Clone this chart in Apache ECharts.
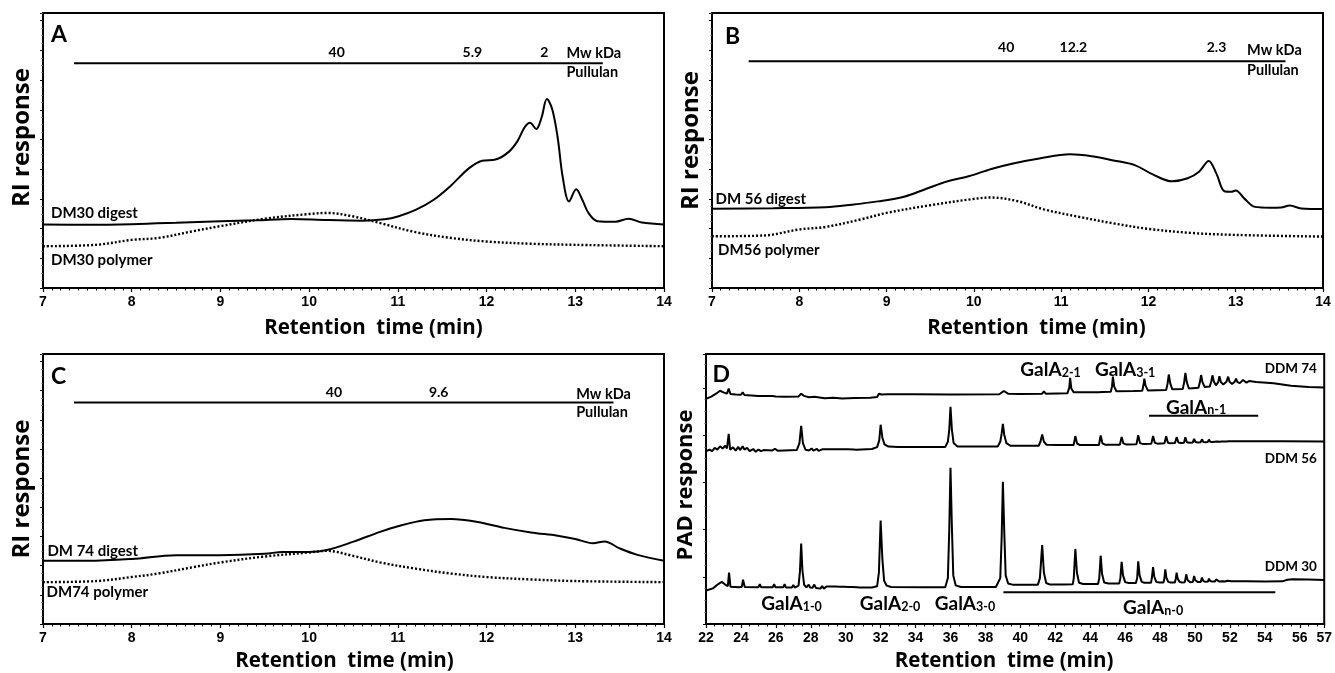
<!DOCTYPE html>
<html>
<head>
<meta charset="utf-8">
<script src="https://cdn.jsdelivr.net/npm/echarts@6/dist/echarts.min.js"></script>
<style>
html, body { margin: 0; background: #fff; }
#main { width: 1335px; height: 673px; }
</style>
</head>
<body>
<div id="main"></div>
<script>
// RI traces, [retention time (min), response]
var digestA = [[7.0, 23.1], [7.5, 23.0], [8.0, 23.2], [8.5, 23.7], [9.0, 24.3], [9.4, 24.6], [9.8, 25.1], [10.2, 24.7],
    [10.6, 24.5], [10.85, 25.0], [11.0, 26.0], [11.2, 28.4], [11.4, 32.0], [11.6, 37.3], [11.8, 43.5], [11.95, 46.3],
    [12.1, 46.7], [12.25, 49.5], [12.35, 53.5], [12.43, 58.5], [12.49, 60.1], [12.56, 57.8], [12.62, 62.0], [12.68, 68.7],
    [12.74, 65.0], [12.8, 55.0], [12.86, 40.0], [12.93, 31.5], [13.01, 35.9], [13.08, 32.0], [13.15, 27.2], [13.25, 24.3],
    [13.45, 24.1], [13.6, 25.2], [13.75, 23.8], [14.0, 23.1]];
var polymerA = [[7.0, 15.2], [7.6, 15.7], [8.0, 17.5], [8.3, 18.2], [8.7, 20.7], [9.0, 22.5], [9.5, 25.2], [10.0, 26.9],
    [10.2, 27.3], [10.5, 26.0], [10.8, 23.6], [11.2, 20.3], [11.6, 18.2], [12.0, 16.9], [12.5, 16.1], [13.0, 15.7], [14.0, 15.2]];
var digestB = [[7.0, 28.8], [7.7, 29.0], [8.3, 29.4], [8.6, 30.3], [8.9, 31.5], [9.2, 33.2], [9.45, 36.0], [9.7, 38.8],
    [9.95, 40.7], [10.2, 43.3], [10.45, 45.3], [10.75, 47.1], [11.1, 48.6], [11.35, 47.9], [11.6, 46.4], [11.85, 44.6],
    [12.05, 41.3], [12.27, 38.8], [12.45, 39.9], [12.58, 42.3], [12.69, 46.2], [12.78, 41.5], [12.87, 35.2], [12.95, 35.0],
    [13.0, 35.5], [13.1, 32.5], [13.22, 29.5], [13.4, 29.2], [13.52, 29.3], [13.62, 30.0], [13.75, 28.9], [14.0, 28.7]];
var polymerB = [[7.0, 18.8], [7.6, 19.1], [8.0, 21.3], [8.3, 22.2], [8.7, 24.9], [9.0, 27.3], [9.5, 30.1], [10.0, 32.4],
    [10.2, 32.9], [10.5, 31.6], [10.8, 28.6], [11.2, 25.9], [11.6, 23.5], [12.0, 21.5], [12.5, 20.0], [13.0, 19.3], [14.0, 18.7]];
var digestC = [[7.0, 23.4], [7.5, 23.4], [8.0, 24.1], [8.5, 25.5], [9.0, 25.5], [9.5, 26.0], [9.7, 26.7], [10.0, 26.7],
    [10.2, 27.4], [10.5, 30.5], [10.8, 34.1], [11.0, 36.2], [11.3, 38.4], [11.6, 38.9], [11.9, 37.8], [12.2, 35.6],
    [12.5, 33.9], [12.8, 32.7], [13.0, 31.5], [13.2, 29.9], [13.33, 30.6], [13.5, 28.0], [13.7, 25.6], [14.0, 23.4]];
var polymerC = [[7.0, 15.5], [7.6, 15.9], [8.0, 17.4], [8.3, 18.7], [8.7, 21.1], [9.0, 22.8], [9.5, 25.0], [10.0, 26.5],
    [10.2, 27.1], [10.5, 25.2], [10.8, 22.8], [11.2, 20.5], [11.6, 18.7], [12.0, 17.4], [12.5, 16.5], [13.0, 15.9], [14.0, 15.5]];

// pullulan calibration bars
var pullA = [[7.35, 81.7], [13.31, 81.7]];
var pullB = [[7.42, 82.5], [13.57, 82.5]];
var pullC = [[7.35, 82.0], [13.43, 82.0]];

// PAD traces (panel D)
var ddm74 = [[22.0, 83.4], [22.3, 84.2], [22.6, 85.4], [22.8, 86.4], [23.0, 85.8], [23.2, 85.3], [23.3, 87.2], [23.4, 85.2],
    [23.7, 85.0], [24.0, 84.9], [24.1, 85.8], [24.2, 84.8], [24.6, 84.6], [25.0, 84.4], [25.8, 84.4], [25.9, 84.8],
    [26.0, 84.3], [26.5, 84.2], [27.3, 84.3], [27.45, 85.3], [27.6, 84.5], [27.9, 84.0], [28.2, 84.2], [28.3, 83.6],
    [28.8, 83.6], [29.3, 83.8], [29.8, 83.5], [30.5, 83.7], [31.4, 83.8], [31.8, 84.1], [31.9, 85.3], [32.05, 85.0],
    [32.4, 85.1], [34.0, 85.1], [36.0, 85.0], [38.8, 85.1], [39.05, 86.3], [39.3, 85.3], [40.0, 85.2], [41.25, 85.3],
    [41.35, 86.2], [41.45, 85.3], [42.7, 85.5], [42.8, 87.5], [42.85, 91.2], [42.92, 87.2], [43.05, 85.8], [44.5, 85.8],
    [44.6, 86.3], [44.7, 85.9], [45.18, 86.0], [45.25, 88.0], [45.3, 91.6], [45.37, 88.0], [45.5, 86.2], [46.5, 86.3],
    [46.98, 86.4], [47.05, 88.5], [47.1, 90.9], [47.17, 88.3], [47.3, 86.5], [48.35, 86.7], [48.43, 89.0], [48.5, 92.4],
    [48.58, 89.2], [48.7, 86.9], [49.3, 87.0], [49.38, 89.5], [49.45, 93.0], [49.53, 89.6], [49.65, 87.2], [50.2, 87.5],
    [50.28, 89.5], [50.35, 92.2], [50.43, 89.6], [50.55, 87.8], [50.85, 88.0], [50.93, 89.8], [51.0, 92.1], [51.08, 89.8],
    [51.2, 88.4], [51.33, 89.6], [51.4, 91.8], [51.48, 89.6], [51.62, 88.7], [51.8, 89.7], [51.9, 91.6], [51.98, 89.7],
    [52.12, 88.9], [52.27, 89.7], [52.35, 90.9], [52.43, 89.6], [52.57, 89.2], [52.68, 89.8], [52.75, 90.4], [52.83, 89.7],
    [52.95, 89.4], [53.05, 89.9], [53.1, 90.0], [53.2, 89.6], [53.5, 89.6], [54.5, 89.2], [55.5, 88.2], [56.5, 87.8], [57.4, 87.6]];
var ddm56 = [[22.0, 63.9], [22.2, 64.6], [22.35, 64.0], [22.5, 65.2], [22.65, 64.6], [22.8, 65.8], [22.95, 65.0], [23.1, 66.0],
    [23.2, 65.0], [23.3, 70.4], [23.38, 64.6], [23.55, 65.4], [23.7, 64.2], [23.85, 65.6], [23.95, 64.4], [24.1, 65.8],
    [24.2, 64.6], [24.35, 65.2], [24.5, 64.0], [24.7, 64.8], [24.85, 63.8], [25.0, 64.6], [25.15, 64.0], [25.3, 64.4],
    [25.8, 64.3], [25.95, 64.9], [26.1, 64.2], [27.2, 64.4], [27.35, 67.0], [27.45, 73.4], [27.55, 67.0], [27.7, 64.5],
    [27.9, 64.3], [28.05, 65.0], [28.15, 64.2], [28.35, 64.9], [28.45, 64.1], [28.65, 64.7], [28.75, 64.1], [28.95, 64.7],
    [29.05, 64.2], [29.25, 64.7], [29.35, 64.3], [29.55, 64.7], [29.65, 64.3], [29.85, 64.7], [29.95, 64.4], [30.15, 64.7],
    [30.25, 64.4], [30.45, 64.6], [30.6, 64.5], [31.5, 64.8], [31.8, 65.5], [31.92, 68.0], [32.0, 73.8], [32.1, 69.0],
    [32.22, 66.5], [32.45, 65.7], [33.0, 65.6], [35.7, 65.6], [35.85, 67.5], [35.93, 72.0], [36.0, 80.4], [36.08, 72.0],
    [36.18, 67.0], [36.4, 65.7], [38.7, 65.7], [38.85, 67.5], [38.93, 70.5], [39.0, 74.1], [39.08, 70.0], [39.2, 67.0],
    [39.45, 66.0], [41.05, 66.0], [41.15, 67.5], [41.25, 70.2], [41.35, 67.5], [41.5, 66.4], [42.1, 66.3], [42.2, 66.9],
    [42.3, 66.3], [43.05, 66.3], [43.15, 69.6], [43.25, 66.8], [43.4, 66.3], [44.5, 66.3], [44.6, 69.8], [44.7, 66.9],
    [44.85, 66.4], [45.7, 66.4], [45.8, 69.3], [45.9, 66.9], [46.05, 66.5], [46.65, 66.6], [46.75, 69.9], [46.85, 67.0],
    [47.0, 66.7], [47.5, 66.8], [47.6, 69.6], [47.7, 67.1], [47.85, 66.8], [48.25, 66.9], [48.35, 69.5], [48.45, 67.1],
    [48.6, 66.9], [48.85, 67.0], [48.95, 69.2], [49.05, 67.2], [49.2, 67.0], [49.37, 67.1], [49.45, 69.2], [49.53, 67.3],
    [49.7, 67.1], [49.87, 67.2], [49.95, 68.6], [50.03, 67.4], [50.17, 67.2], [50.32, 67.3], [50.4, 68.4], [50.48, 67.4],
    [50.6, 67.3], [50.73, 67.4], [50.8, 68.3], [50.87, 67.5], [51.0, 67.4], [51.13, 67.5], [51.2, 68.2], [51.27, 67.6],
    [51.4, 67.5], [51.53, 67.6], [51.6, 68.1], [51.67, 67.6], [51.8, 67.6], [51.93, 67.7], [52.0, 68.0], [52.1, 67.7],
    [53.0, 67.7], [55.0, 67.7], [57.4, 67.6]];
var ddm30 = [[22.0, 12.4], [22.4, 13.2], [22.7, 14.8], [22.9, 15.6], [23.1, 14.6], [23.25, 14.0], [23.32, 19.0], [23.4, 13.8],
    [23.9, 13.6], [24.05, 13.8], [24.12, 16.4], [24.22, 13.7], [25.0, 13.6], [25.08, 14.8], [25.16, 13.6], [25.82, 13.6],
    [25.9, 14.8], [25.98, 13.6], [26.42, 13.6], [26.5, 14.8], [26.58, 13.5], [26.92, 13.5], [27.0, 14.4], [27.08, 13.5],
    [27.3, 14.2], [27.38, 19.5], [27.45, 29.8], [27.52, 20.0], [27.62, 14.5], [27.75, 13.6], [27.88, 14.6], [27.96, 13.5],
    [28.1, 13.4], [28.2, 14.6], [28.3, 13.3], [28.55, 13.1], [28.65, 14.0], [28.75, 13.1], [28.9, 13.9], [29.0, 13.2],
    [29.15, 13.9], [29.25, 13.2], [29.4, 13.9], [29.5, 13.3], [29.65, 13.8], [29.75, 13.3], [29.9, 13.8], [30.0, 13.4],
    [30.15, 13.7], [30.25, 13.4], [30.4, 13.7], [30.5, 13.5], [30.65, 13.6], [30.8, 13.5], [31.5, 13.5], [31.8, 14.0],
    [31.9, 19.0], [32.0, 38.3], [32.1, 24.0], [32.2, 16.0], [32.35, 14.2], [32.6, 13.7], [34.5, 13.6], [35.7, 13.6],
    [35.85, 17.0], [35.93, 35.0], [36.0, 57.9], [36.08, 36.0], [36.16, 18.0], [36.3, 14.3], [36.6, 13.7], [38.6, 13.7],
    [38.85, 17.0], [38.93, 32.0], [39.0, 52.7], [39.08, 34.0], [39.16, 18.0], [39.3, 15.0], [39.6, 14.5], [41.0, 14.5],
    [41.12, 17.0], [41.25, 29.2], [41.35, 19.0], [41.48, 15.2], [41.7, 14.6], [42.3, 14.6], [42.38, 15.2], [42.46, 14.6],
    [43.0, 14.7], [43.06, 17.0], [43.15, 27.8], [43.24, 19.0], [43.36, 15.3], [43.6, 14.8], [44.45, 14.8], [44.52, 17.0],
    [44.6, 25.3], [44.68, 18.5], [44.8, 15.4], [45.05, 15.0], [45.66, 15.0], [45.73, 17.0], [45.8, 23.0], [45.88, 18.0],
    [46.0, 15.5], [46.2, 15.2], [46.62, 15.2], [46.69, 17.0], [46.75, 23.2], [46.83, 18.0], [46.95, 15.6], [47.1, 15.3],
    [47.48, 15.3], [47.53, 17.0], [47.6, 21.1], [47.67, 17.5], [47.78, 15.6], [47.95, 15.4], [48.2, 15.4], [48.25, 17.0],
    [48.3, 20.2], [48.36, 17.2], [48.47, 15.6], [48.6, 15.4], [48.85, 15.4], [48.9, 16.8], [48.95, 19.0], [49.01, 16.8],
    [49.12, 15.6], [49.25, 15.4], [49.42, 15.5], [49.5, 18.4], [49.58, 16.2], [49.72, 15.5], [49.88, 15.6], [49.95, 17.8],
    [50.02, 16.2], [50.15, 15.6], [50.33, 15.6], [50.4, 17.2], [50.47, 16.0], [50.6, 15.6], [50.74, 15.7], [50.8, 16.8],
    [50.87, 15.9], [51.0, 15.7], [51.14, 15.7], [51.2, 16.5], [51.27, 15.8], [51.4, 15.7], [51.5, 16.2], [51.6, 15.8],
    [51.72, 15.7], [51.85, 16.0], [51.95, 15.8], [52.1, 15.8], [52.2, 16.0], [52.3, 15.8], [53.0, 15.8], [54.0, 15.7],
    [55.0, 15.8], [55.3, 16.4], [55.6, 16.6], [56.5, 16.5], [57.4, 16.3]];
var galN1 = [[47.37, 77.1], [53.62, 77.1]];
var galN0 = [[39.03, 11.8], [54.6, 11.8]];

// annotation texts: [x, y, text, kind]
var notesA = [[7.09, 92.2, 'A', 'panel'], [10.31, 85.6, '40', 'num'], [11.84, 85.6, '5.9', 'num'], [12.65, 85.6, '2', 'num'],
    [12.9, 85.2, 'Mw kDa', 'unit'], [12.9, 78.5, 'Pullulan', 'unit'],
    [7.09, 27.3, 'DM30 digest', 'trace'], [7.09, 10.2, 'DM30 polymer', 'trace']];
var notesB = [[7.15, 91.6, 'B', 'panel'], [10.37, 87.3, '40', 'num'], [11.14, 87.3, '12.2', 'num'], [12.78, 87.3, '2.3', 'num'],
    [13.13, 86.5, 'Mw kDa', 'unit'], [13.13, 79.0, 'Pullulan', 'unit'],
    [7.04, 32.4, 'DM 56 digest', 'trace'], [7.07, 13.6, 'DM56 polymer', 'trace']];
var notesC = [[7.09, 91.8, 'C', 'panel'], [10.28, 85.6, '40', 'num'], [11.46, 85.6, '9.6', 'num'],
    [13.01, 85.0, 'Mw kDa', 'unit'], [13.01, 78.5, 'Pullulan', 'unit'],
    [7.05, 27.0, 'DM 74 digest', 'trace'], [7.04, 11.7, 'DM74 polymer', 'trace']];
var notesD = [[22.37, 92.4, 'D', 'panel'], [41.73, 94.0, 'GalA_2-1', 'gal'], [46.0, 94.0, 'GalA_3-1', 'gal'],
    [50.06, 80.2, 'GalA_n-1', 'gal'], [26.9, 7.4, 'GalA_1-0', 'gal'], [32.54, 7.4, 'GalA_2-0', 'gal'],
    [36.83, 7.4, 'GalA_3-0', 'gal'], [47.6, 5.8, 'GalA_n-0', 'gal'],
    [56.98, 94.5, 'DDM 74', 'ddm'], [56.98, 61.4, 'DDM 56', 'ddm'], [56.98, 21.1, 'DDM 30', 'ddm']];

var LBL = 'Lato, "Open Sans", sans-serif';
var TITLE = '"Open Sans", Lato, sans-serif';
var TICK = '"Liberation Sans Narrow", "Liberation Sans", Arial, sans-serif';
var INK = '#000';

var kinds = {
    panel: { fontSize: 23, align: 'left' },
    num: { fontSize: 14, align: 'center' },
    unit: { fontSize: 14.5, align: 'left' },
    trace: { fontSize: 15, align: 'left' },
    ddm: { fontSize: 13.5, align: 'right' },
    gal: { fontSize: 19, align: 'center' }
};

function trace(i, data, dotted) {
    return {
        type: 'line', xAxisIndex: i, yAxisIndex: i, data: data,
        showSymbol: false, symbol: 'none', smooth: i < 3 ? 0.35 : false, silent: true,
        lineStyle: { color: INK, width: dotted ? 2.4 : 2, type: dotted ? [2, 2] : 'solid' }
    };
}

function notes(i, list) {
    return {
        type: 'scatter', xAxisIndex: i, yAxisIndex: i, symbolSize: 0, silent: true, z: 5,
        itemStyle: { color: INK, opacity: 1 },
        data: list.map(function (n) {
            var k = kinds[n[3]];
            var txt = n[2];
            if (n[3] === 'gal') {
                var p = txt.split('_');
                txt = '{g|' + p[0] + '}{s|' + p[1] + '}';
            }
            return {
                value: [n[0], n[1]],
                label: {
                    show: true, position: 'inside', align: k.align, verticalAlign: 'middle',
                    formatter: function () { return txt; },
                    fontSize: k.fontSize, fontWeight: 'bold', fontFamily: LBL, color: INK,
                    textBorderWidth: 0, textShadowBlur: 0,
                    rich: {
                        g: { fontSize: 19, fontWeight: 'bold', fontFamily: LBL, color: INK, lineHeight: 19, verticalAlign: 'top', textBorderWidth: 0 },
                        s: { fontSize: 12.5, fontWeight: 'bold', fontFamily: LBL, color: INK, lineHeight: 13, verticalAlign: 'bottom', padding: [10, 0, 0, 0], textBorderWidth: 0 }
                    }
                }
            };
        })
    };
}

function xAx(i, min, max, step, minor, gap, pad, fmt) {
    return {
        type: 'value', gridIndex: i, min: min, max: max, interval: step,
        axisLine: { lineStyle: { color: INK, width: 2 } },
        axisTick: { length: 4, lineStyle: { color: INK, width: 1.2 } },
        minorTick: { show: true, splitNumber: minor, length: 2.5, lineStyle: { color: INK, width: 1 } },
        splitLine: { show: false },
        axisLabel: { color: INK, fontFamily: TICK, fontWeight: 'bold', fontSize: 14, margin: 7, formatter: fmt },
        name: 'Retention  time (min)', nameLocation: 'middle', nameGap: gap,
        nameTextStyle: { color: INK, fontFamily: TITLE, fontWeight: 'bold', fontSize: 20.5, padding: pad }
    };
}

function yAx(i, step, name, size, pad) {
    return {
        type: 'value', gridIndex: i, min: 0, max: 100, interval: step,
        axisLine: { lineStyle: { color: INK, width: 2 } },
        axisTick: { length: 3, lineStyle: { color: INK, width: 1 } },
        minorTick: { show: true, splitNumber: 4, length: 1.5, lineStyle: { color: '#555', width: 1 } },
        splitLine: { show: false },
        axisLabel: { show: false },
        name: name, nameLocation: 'middle', nameGap: 9,
        nameTextStyle: { color: INK, fontFamily: TITLE, fontWeight: 'bold', fontSize: size, padding: pad }
    };
}

var box = { show: true, borderColor: INK, borderWidth: 2, backgroundColor: '#fff' };
var myChart = echarts.init(document.getElementById('main'));

var option = {
    animation: false,
    backgroundColor: '#fff',
    grid: [
        Object.assign({ left: 43, top: 13, width: 621, height: 275 }, box),
        Object.assign({ left: 712, top: 13, width: 611, height: 275 }, box),
        Object.assign({ left: 43, top: 354, width: 621, height: 274 }, box),
        Object.assign({ left: 706, top: 354, width: 619, height: 277 }, box)
    ],
    xAxis: [
        xAx(0, 7, 14, 1, 10, 30, [0, 0, 0, 40]),
        xAx(1, 7, 14, 1, 10, 30, [0, 0, 0, 38]),
        xAx(2, 7, 14, 1, 10, 27, [0, 18, 0, 0]),
        xAx(3, 22, 57.4, 2, 4, 27, [0, 22, 0, 0], function (v) { return Math.round(v); })
    ],
    yAxis: [
        yAx(0, 10.8, 'RI response', 24, [0, 0, 0, 26]),
        yAx(1, 10.8, 'RI response', 24, [0, 0, 0, 20]),
        yAx(2, 10.8, 'RI response', 24, [0, 0, 0, 0]),
        yAx(3, 17.5, 'PAD response', 22, [0, 0, 0, 8])
    ],
    series: [
        trace(0, digestA, false), trace(0, polymerA, true), trace(0, pullA, false), notes(0, notesA),
        trace(1, digestB, false), trace(1, polymerB, true), trace(1, pullB, false), notes(1, notesB),
        trace(2, digestC, false), trace(2, polymerC, true), trace(2, pullC, false), notes(2, notesC),
        trace(3, ddm74, false), trace(3, ddm56, false), trace(3, ddm30, false),
        trace(3, galN1, false), trace(3, galN0, false), notes(3, notesD)
    ]
};

myChart.setOption(option);
</script>
</body>
</html>
